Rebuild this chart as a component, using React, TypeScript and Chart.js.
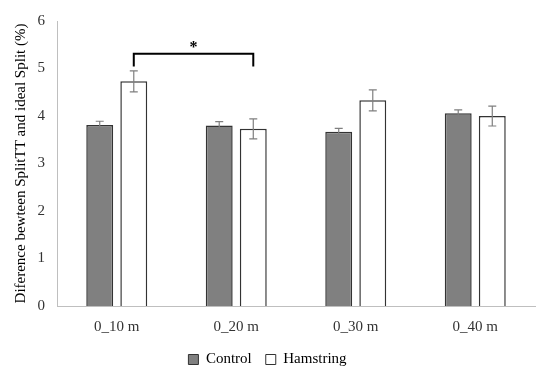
import React, { useEffect, useRef } from "react";
import { Chart, registerables } from "chart.js";

Chart.register(...registerables);

const categories = ["0_10 m", "0_20 m", "0_30 m", "0_40 m"];
const controlValues = [3.81, 3.8, 3.67, 4.06];
const controlErrors = [0.08, 0.08, 0.07, 0.07];
const hamstringValues = [4.73, 3.73, 4.33, 4.0];
const hamstringErrors = [0.22, 0.21, 0.22, 0.21];
const yTicks = [0, 1, 2, 3, 4, 5, 6];
const bracketLevel = 5.31;
const bracketLegEnd = 5.04;
const starLevel = 5.5;

const FONT = "'Liberation Serif', 'DejaVu Serif', serif";

const errorBarPlugin = {
  id: "errorBars",
  afterDatasetsDraw(chart: any) {
    const ctx = chart.ctx;
    const yScale = chart.scales.y;
    const errs = [controlErrors, hamstringErrors];
    const vals = [controlValues, hamstringValues];
    ctx.save();
    ctx.strokeStyle = "#7f7f7f";
    ctx.lineWidth = 1.2;
    for (let d = 0; d < 2; d++) {
      const meta = chart.getDatasetMeta(d);
      meta.data.forEach((bar: any, i: number) => {
        const x = bar.x;
        const yTop = yScale.getPixelForValue(vals[d][i] + errs[d][i]);
        const yBot = yScale.getPixelForValue(vals[d][i] - errs[d][i]);
        ctx.beginPath();
        ctx.moveTo(x, yTop);
        ctx.lineTo(x, yBot);
        ctx.moveTo(x - 4, yTop);
        ctx.lineTo(x + 4, yTop);
        ctx.moveTo(x - 4, yBot);
        ctx.lineTo(x + 4, yBot);
        ctx.stroke();
      });
    }
    // significance bracket between Hamstring 0_10 and 0_20
    const meta = chart.getDatasetMeta(1);
    const x1 = meta.data[0].x;
    const x2 = meta.data[1].x;
    const yb = yScale.getPixelForValue(bracketLevel);
    const yl = yScale.getPixelForValue(bracketLegEnd);
    ctx.strokeStyle = "#000";
    ctx.lineWidth = 2;
    ctx.beginPath();
    ctx.moveTo(x1, yl);
    ctx.lineTo(x1, yb);
    ctx.lineTo(x2, yb);
    ctx.lineTo(x2, yl);
    ctx.stroke();
    ctx.fillStyle = "#000";
    ctx.font = `bold 16px ${FONT}`;
    ctx.textAlign = "center";
    ctx.textBaseline = "middle";
    ctx.fillText("*", (x1 + x2) / 2, yScale.getPixelForValue(starLevel) + 3);
    ctx.restore();
  },
};

export default function App() {
  const ref = useRef<HTMLCanvasElement>(null);
  useEffect(() => {
    document.body.style.margin = "0";
    const chart = new Chart(ref.current!, {
      type: "bar",
      data: {
        labels: categories,
        datasets: [
          {
            label: "Control",
            data: controlValues,
            backgroundColor: "#808080",
            borderColor: "#333333",
            borderWidth: 1.5,
            categoryPercentage: 0.57,
            barPercentage: 0.79,
          },
          {
            label: "Hamstring",
            data: hamstringValues,
            backgroundColor: "#ffffff",
            borderColor: "#333333",
            borderWidth: 1.5,
            categoryPercentage: 0.57,
            barPercentage: 0.79,
          },
        ],
      },
      options: {
        animation: false,
        responsive: false,
        layout: { padding: { top: 17, right: 15, left: 0, bottom: -3 } },
        plugins: {
          tooltip: { enabled: false },
          legend: {
            position: "bottom",
            labels: {
              font: { family: FONT, size: 15 },
              color: "#000",
              boxWidth: 10,
              boxHeight: 10,
              padding: 14,
              generateLabels: (chart: any) =>
                chart.data.datasets.map((ds: any, i: number) => ({
                  text: ds.label,
                  fillStyle: ds.backgroundColor,
                  strokeStyle: "#333333",
                  lineWidth: 1,
                  datasetIndex: i,
                  fontColor: "#000",
                })),
            },
          },
        },
        scales: {
          x: {
            grid: { display: false, drawTicks: false },
            border: { color: "#bfbfbf", width: 1 },
            ticks: { font: { family: FONT, size: 15 }, color: "#333", padding: 12 },
            afterFit: (s: any) => {
              s.height = 32;
            },
          },
          y: {
            min: 0,
            max: 6,
            afterBuildTicks: (s: any) => {
              s.ticks = yTicks.map((v) => ({ value: v }));
            },
            grid: { display: false, drawTicks: false },
            border: { color: "#bfbfbf", width: 1 },
            ticks: { font: { family: FONT, size: 15 }, color: "#333", padding: 12 },
            title: {
              display: true,
              text: "Diference bewteen SplitTT and ideal Split (%)",
              font: { family: FONT, size: 15 },
              color: "#000",
              padding: { top: 12, bottom: 4 },
            },
            afterFit: (s: any) => {
              s.width = 57;
            },
          },
        },
      },
      plugins: [errorBarPlugin],
    });
    return () => chart.destroy();
  }, []);
  return <canvas ref={ref} width={550} height={374} style={{ display: "block" }} />;
}
